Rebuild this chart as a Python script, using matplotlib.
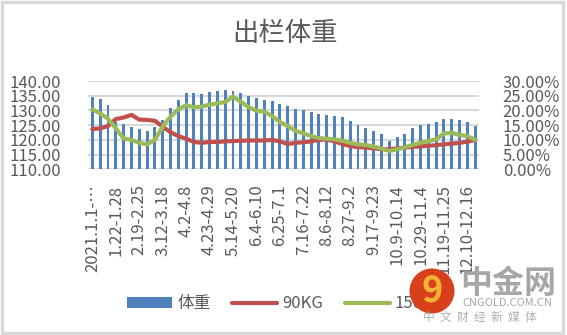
import matplotlib
matplotlib.use("Agg")
import matplotlib.pyplot as plt
from matplotlib.patches import Circle, Rectangle
from matplotlib.ticker import FuncFormatter

plt.rcParams['font.family'] = ['Noto Sans CJK SC', 'DejaVu Sans']

# weekly categories, 2021
weeks = ["2021.1.1-1.7", "1.8-1.14", "1.15-1.21", "1.22-1.28", "1.29-2.4", "2.5-2.11",
         "2.19-2.25", "2.26-3.4", "3.5-3.11", "3.12-3.18", "3.19-3.25", "3.26-4.1",
         "4.2-4.8", "4.9-4.15", "4.16-4.22", "4.23-4.29", "4.30-5.6", "5.7-5.13",
         "5.14-5.20", "5.21-5.27", "5.28-6.3", "6.4-6.10", "6.11-6.17", "6.18-6.24",
         "6.25-7.1", "7.2-7.8", "7.9-7.15", "7.16-7.22", "7.23-7.29", "7.30-8.5",
         "8.6-8.12", "8.13-8.19", "8.20-8.26", "8.27-9.2", "9.3-9.9", "9.10-9.16",
         "9.17-9.23", "9.24-9.30", "10.1-10.8", "10.9-10.14", "10.15-10.21", "10.22-10.28",
         "10.29-11.4", "11.5-11.11", "11.12-11.18", "11.19-11.25", "11.26-12.2", "12.3-12.9",
         "12.10-12.16", "12.17-12.23"]

weight = [134.7, 133.9, 131.8, 126.2, 125.4, 124.4, 123.7, 123.0, 124.4, 126.7,
          130.8, 133.5, 135.9, 135.9, 135.6, 136.3, 136.6, 136.9, 136.6, 135.9,
          134.9, 134.2, 133.5, 133.2, 132.2, 131.5, 130.5, 130.1, 129.5, 128.8,
          128.4, 128.1, 127.8, 126.4, 125.0, 124.0, 123.0, 122.0, 119.6, 121.0,
          122.0, 124.0, 125.0, 125.4, 126.1, 127.1, 127.1, 126.7, 126.1, 124.7]

kg90 = [13.7, 13.9, 14.7, 17.1, 17.6, 18.5, 16.9, 16.8, 16.5, 14.5,
        12.6, 11.3, 10.4, 9.3, 9.0, 9.3, 9.3, 9.5, 9.6, 9.7,
        9.8, 9.8, 9.8, 10.0, 9.5, 8.6, 9.0, 9.2, 9.5, 10.0,
        10.1, 9.5, 8.6, 7.9, 7.5, 7.4, 7.1, 6.9, 6.8, 7.1,
        7.4, 7.6, 7.8, 8.0, 8.2, 8.5, 8.7, 9.0, 9.4, 10.0]

kg150 = [20.4, 19.0, 17.2, 13.9, 10.5, 10.0, 9.0, 8.5, 10.0, 14.5,
         17.9, 20.4, 21.8, 21.1, 21.3, 22.0, 22.4, 22.9, 24.7, 23.0,
         21.1, 19.9, 19.6, 18.1, 16.1, 14.7, 13.1, 12.2, 11.3, 10.6,
         10.4, 10.2, 9.7, 9.0, 8.5, 8.3, 7.7, 7.1, 6.2, 6.8,
         7.5, 8.3, 9.0, 9.6, 10.2, 12.2, 12.4, 11.7, 11.3, 10.0]

grey = '#595959'
x = list(range(len(weeks)))

fig = plt.figure(figsize=(5.67, 3.35), dpi=100)
ax = fig.add_axes([0.156, 0.4946, 0.689, 0.2634])
ax2 = ax.twinx()

ax.bar(x, weight, width=0.38, color='#4f81bd', zorder=2, label='体重')
ax.set_ylim(110, 140)
ax.set_yticks(range(110, 141, 5))
ax.yaxis.set_major_formatter(FuncFormatter(lambda v, p: '%.2f' % v))
ax.grid(axis='y', color='#d9d9d9', linewidth=1.5, zorder=0)
ax.set_axisbelow(True)
ax.set_xlim(-0.5, len(weeks) - 0.5)

ax2.plot(x, [v / 100 for v in kg90], color='#c0504d', linewidth=3, label='90KG',
         solid_capstyle='round')
ax2.plot(x, [v / 100 for v in kg150], color='#9bbb59', linewidth=3, label='150KG',
         solid_capstyle='round')
ax2.set_ylim(0, 0.30)
ax2.set_yticks([0, 0.05, 0.10, 0.15, 0.20, 0.25, 0.30])
ax2.yaxis.set_major_formatter(FuncFormatter(lambda v, p: '%.2f%%' % (v * 100)))

labels = [weeks[i] for i in range(0, len(weeks), 3)]
labels[0] = '2021.1.1-…'
ax.set_xticks(range(0, len(weeks), 3))
ax.set_xticklabels(labels, rotation=90)

for a in (ax, ax2):
    for s in a.spines.values():
        s.set_visible(False)
    a.tick_params(length=0, labelsize=12, labelcolor=grey)
ax.tick_params(axis='y', pad=20)
ax.tick_params(axis='x', pad=11)
ax2.tick_params(axis='y', pad=17)

fig.text(0.503, 0.9, '出栏体重', ha='center', va='center', fontsize=19, color=grey)

h1, l1 = ax.get_legend_handles_labels()
h2, l2 = ax2.get_legend_handles_labels()
fig.legend(h1 + h2, l1 + l2, loc='center', bbox_to_anchor=(0.505, 0.093), ncol=3,
           frameon=False, fontsize=12, labelcolor=grey, handlelength=2.7,
           handletextpad=0.3, columnspacing=1.3)

# border
fig.patches.append(Rectangle((0.003, 0.005), 0.99, 0.99, transform=fig.transFigure,
                             fill=False, edgecolor='#d9d9d9', linewidth=2.5))

# watermark
fig.patches.append(Circle((4.32, 0.44), 0.225, transform=fig.dpi_scale_trans,
                          facecolor='#d8401c', edgecolor='none', zorder=10))
fig.text(432 / 567, 0.44 / 3.35, '9', ha='center', va='center', fontsize=26,
         color='#f2b233', fontweight='bold', zorder=11)
fig.text(508 / 567, 1 - 284 / 335, '中金网', ha='center', va='center', fontsize=23,
         color='#a6a6a6', fontweight='bold', zorder=11)
fig.text(507 / 567, 1 - 303 / 335, 'CNGOLD.COM.CN', ha='center', va='center',
         fontsize=8, color='#a6a6a6', zorder=11)
fig.text(480 / 567, 1 - 317 / 335, '中  文  财  经  新  媒  体', ha='center', va='center',
         fontsize=8.5, color='#b0b0b0', zorder=11)

fig.savefig('out.png', dpi=100)
